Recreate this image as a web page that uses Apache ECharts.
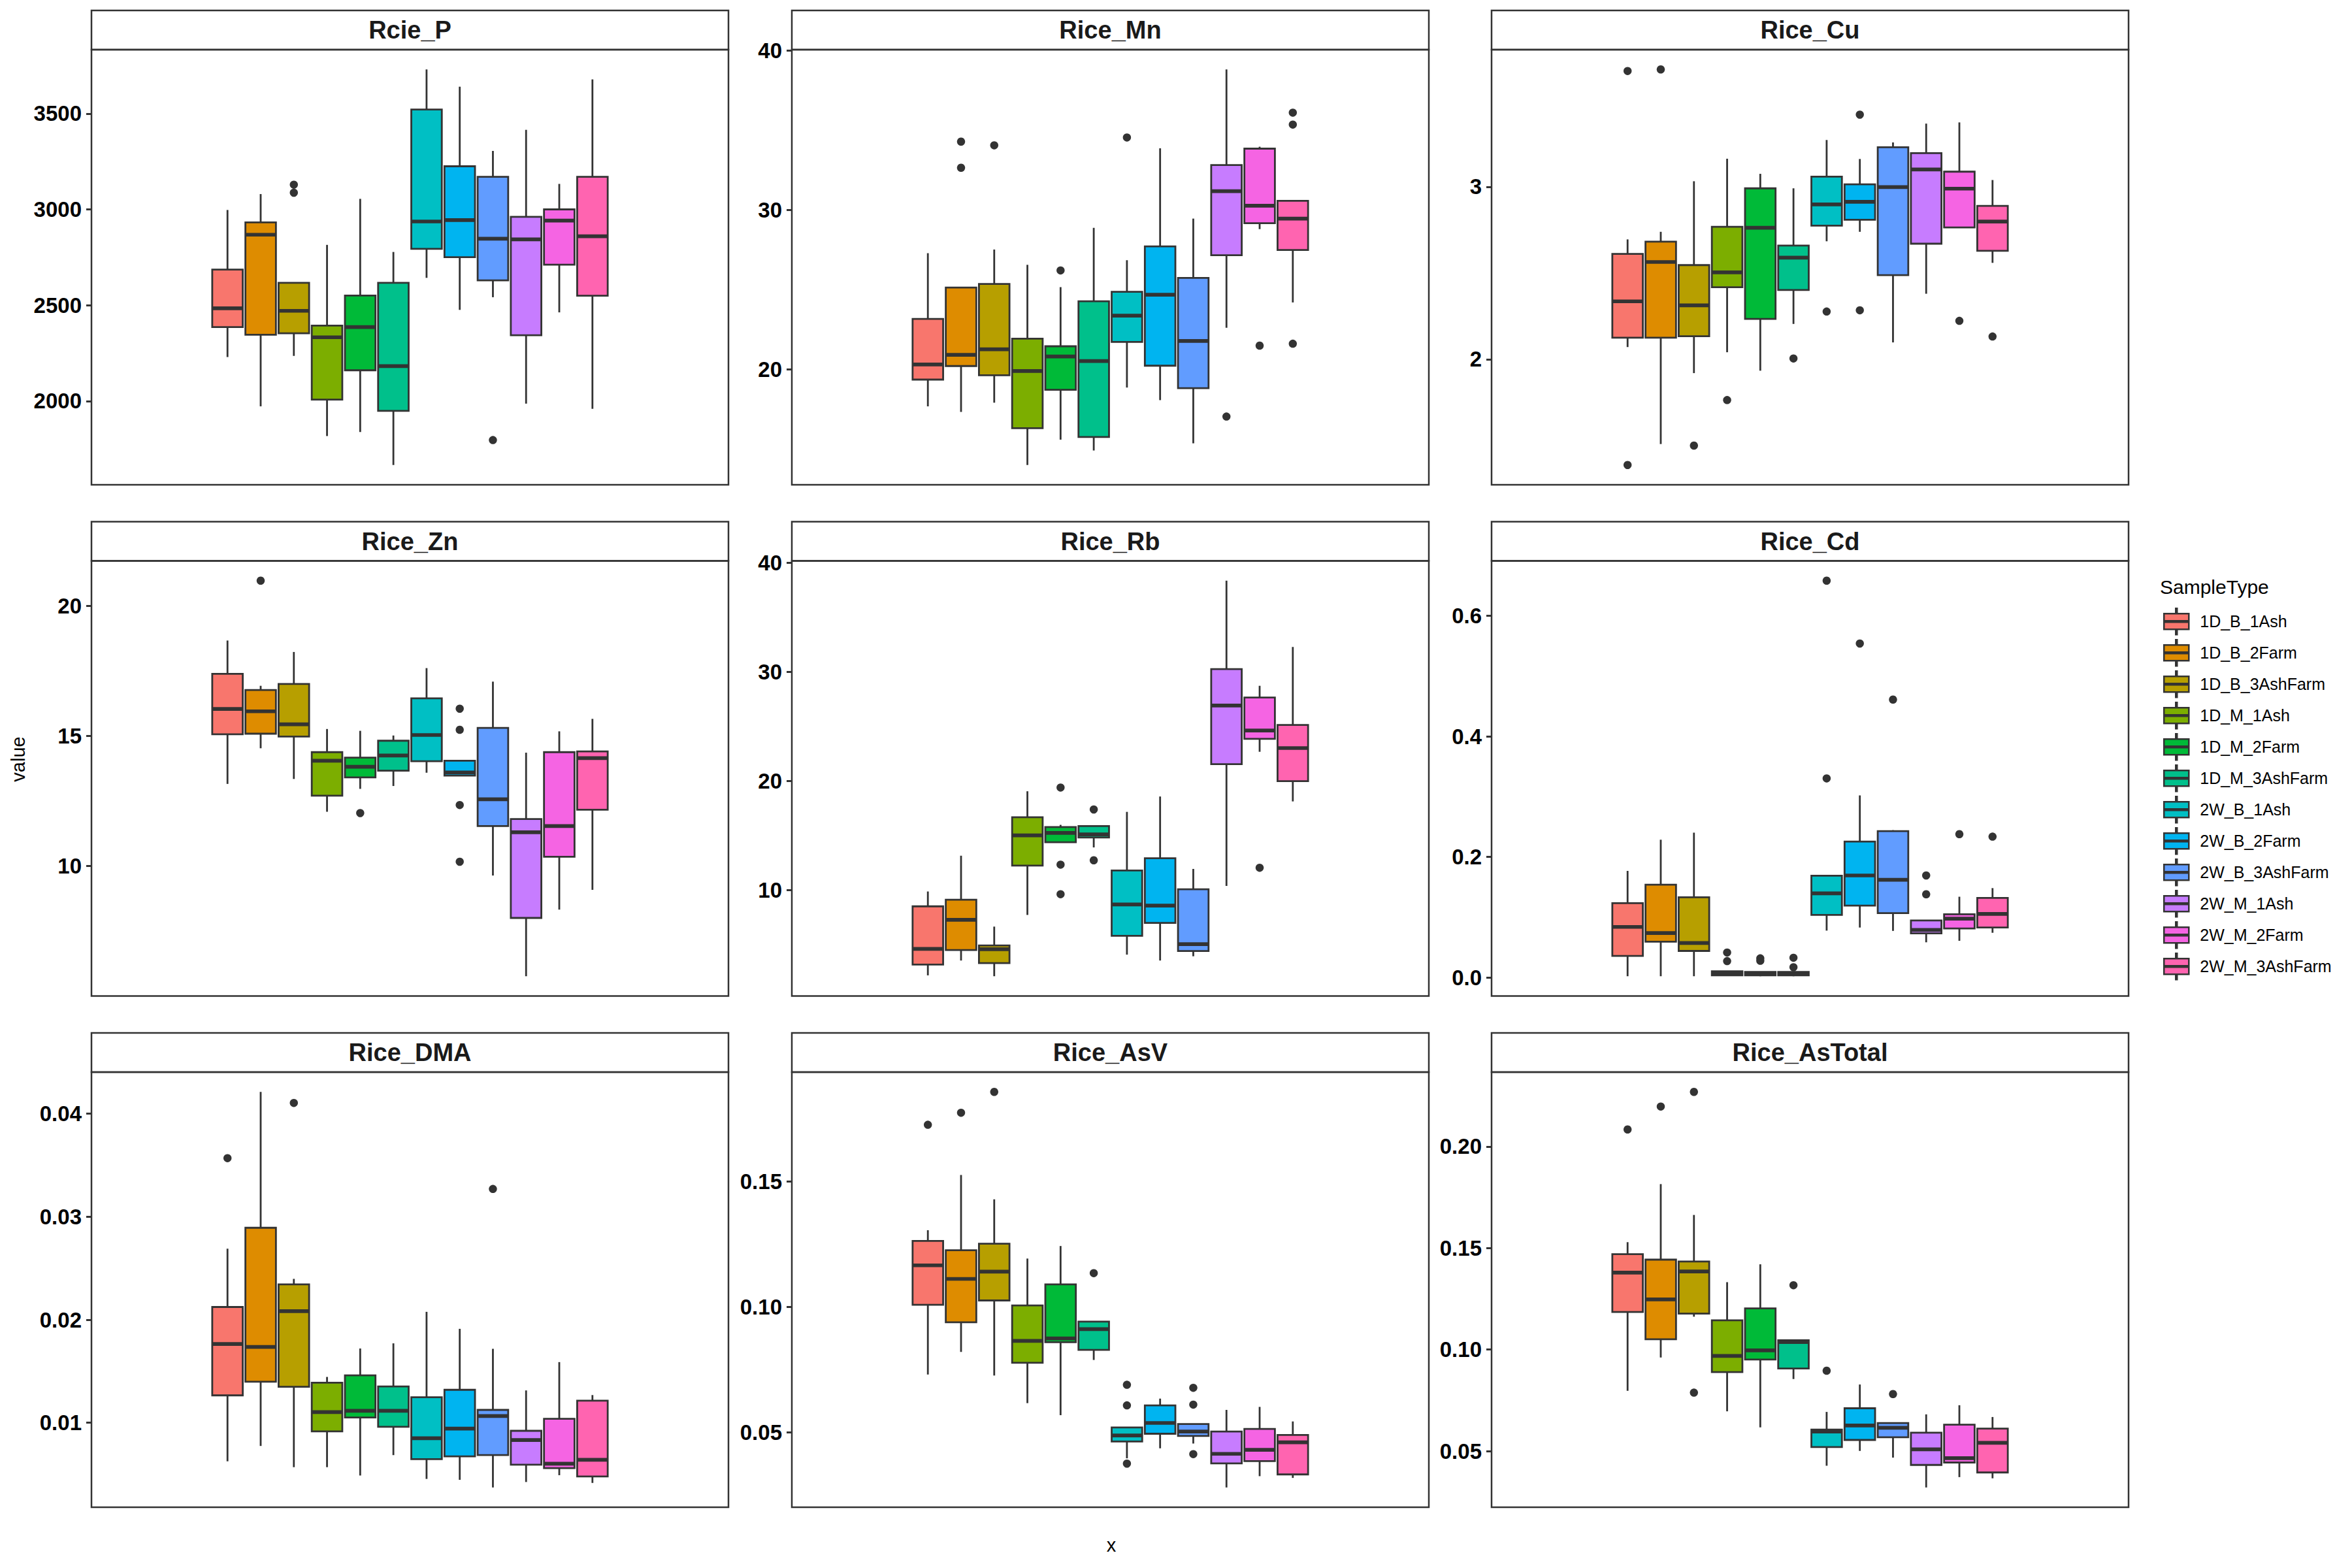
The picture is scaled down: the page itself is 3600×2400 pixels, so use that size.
<!DOCTYPE html>
<html>
<head>
<meta charset="utf-8">
<script src="https://cdn.jsdelivr.net/npm/echarts@6/dist/echarts.min.js"></script>
<style>html,body{margin:0;padding:0;background:#fff}#c{width:3600px;height:2400px}</style>
</head>
<body>
<div id="c"></div>
<script>
// ---------------- DATA ----------------
const categories = ['1D_B_1Ash','1D_B_2Farm','1D_B_3AshFarm','1D_M_1Ash','1D_M_2Farm','1D_M_3AshFarm',
                    '2W_B_1Ash','2W_B_2Farm','2W_B_3AshFarm','2W_M_1Ash','2W_M_2Farm','2W_M_3AshFarm'];
const colors = ['#F8766D','#DE8C00','#B79F00','#7CAE00','#00BA38','#00C08B',
                '#00BFC4','#00B4F0','#619CFF','#C77CFF','#F564E3','#FF64B0'];
const panelTitles = ['Rcie_P','Rice_Mn','Rice_Cu','Rice_Zn','Rice_Rb','Rice_Cd','Rice_DMA','Rice_AsV','Rice_AsTotal'];

// each box: [lower whisker, Q1, median, Q3, upper whisker]; outliers: [category index, value]
const P_box = [[2230,2386,2484,2686,2997],[1973,2346,2868,2932,3080],[2236,2354,2471,2617,2617],[1818,2008,2333,2394,2815],
  [1839,2161,2386,2551,3055],[1667,1949,2183,2617,2778],[2643,2794,2937,3521,3730],[2476,2751,2944,3225,3640],
  [2542,2630,2847,3170,3305],[1987,2344,2844,2961,3415],[2463,2712,2942,3000,3133],[1960,2550,2860,3170,3678]];
const P_out = [[2,3129],[2,3087],[8,1797]];
const P_ticks = [2000,2500,3000,3500];
const P_tickLabels = ['2000','2500','3000','3500'];

const Mn_box = [[17.68,19.36,20.31,23.17,27.29],[17.33,20.21,20.91,25.13,25.13],[17.91,19.63,21.26,25.36,27.52],[14.0,16.31,19.90,21.93,26.56],
  [15.59,18.72,20.81,21.45,25.16],[14.91,15.76,20.52,24.27,28.88],[18.86,21.72,23.37,24.87,26.85],[18.07,20.23,24.68,27.72,33.87],
  [15.36,18.82,21.78,25.74,29.46],[22.61,27.16,31.18,32.82,38.82],[28.8,29.17,30.27,33.85,33.97],[24.20,27.49,29.46,30.58,30.58]];
const Mn_out = [[1,34.29],[1,32.65],[2,34.06],[4,26.21],[6,34.55],[9,17.04],[10,21.49],[11,36.11],[11,35.36],[11,21.61]];
const Mn_ticks = [20,30,40];
const Mn_tickLabels = ['20','30','40'];

const Cu_box = [[2.071,2.125,2.336,2.611,2.695],[1.509,2.125,2.564,2.682,2.739],[1.920,2.134,2.3125,2.546,3.032],[2.041,2.418,2.504,2.768,3.1625],
  [1.934,2.234,2.7625,2.991,3.075],[2.205,2.402,2.589,2.659,2.991],[2.684,2.775,2.898,3.059,3.271],[2.739,2.809,2.9125,3.014,3.161],
  [2.098,2.4875,2.998,3.229,3.257],[2.380,2.670,3.1,3.195,3.366],[2.764,2.764,2.989,3.0875,3.373],[2.559,2.629,2.798,2.889,3.039]];
const Cu_out = [[0,3.671],[0,1.3875],[1,3.680],[2,1.5],[3,1.764],[5,2.005],[6,2.277],[7,3.418],[7,2.284],[10,2.223],[11,2.132]];
const Cu_ticks = [2,3];
const Cu_tickLabels = ['2','3'];

const Zn_box = [[13.16,15.07,16.04,17.39,18.67],[14.53,15.09,15.95,16.77,16.93],[13.35,14.98,15.45,17.0,18.23],[12.09,12.71,14.05,14.38,15.27],
  [12.97,13.41,13.82,14.17,15.20],[13.08,13.67,14.25,14.82,15.02],[13.59,14.03,15.04,16.45,17.61],[13.48,13.48,13.6,14.05,14.05],
  [9.64,11.54,12.57,15.31,17.09],[5.77,8.01,11.30,11.81,14.36],[8.33,10.36,11.54,14.38,15.18],[9.09,12.17,14.15,14.41,15.66]];
const Zn_out = [[1,20.97],[4,12.04],[7,16.05],[7,15.24],[7,12.35],[7,10.17]];
const Zn_ticks = [10,15,20];
const Zn_tickLabels = ['10','15','20'];

const Rb_box = [[2.17,3.16,4.60,8.50,9.86],[3.53,4.49,7.26,9.10,13.14],[2.09,3.30,4.57,4.91,6.64],[7.71,12.24,15.01,16.67,19.05],
  [14.38,14.38,15.23,15.77,15.97],[13.90,14.81,15.09,15.86,15.86],[4.07,5.79,8.67,11.78,17.16],[3.53,6.98,8.56,12.91,18.57],
  [3.92,4.40,5.03,10.06,11.93],[10.37,21.54,26.91,30.25,38.36],[22.67,23.86,24.62,27.64,28.72],[18.12,19.98,23.01,25.13,32.28]];
const Rb_out = [[4,19.39],[4,12.32],[4,9.61],[5,17.38],[5,12.72],[10,12.04]];
const Rb_ticks = [10,20,30,40];
const Rb_tickLabels = ['10','20','30','40'];

const Cd_box = [[0.002,0.0358,0.0838,0.1232,0.1768],[0.002,0.0593,0.0736,0.1538,0.2285],[0.002,0.044,0.0572,0.1329,0.2402],
  [0.0026,0.0036,0.0066,0.0102,0.0102],[0.002,0.0036,0.0061,0.0092,0.0092],[0.002,0.0036,0.006,0.0092,0.0092],
  [0.0777,0.1038,0.1395,0.1687,0.1687],[0.0828,0.1191,0.1692,0.2254,0.302],[0.0772,0.1068,0.162,0.2428,0.2443],
  [0.0583,0.0731,0.0787,0.0946,0.0946],[0.0608,0.0813,0.0976,0.1048,0.1339],[0.0741,0.0828,0.1053,0.1319,0.1482]];
const Cd_out = [[3,0.0414],[3,0.0271],[4,0.0317],[4,0.0276],[5,0.0327],[5,0.0169],[6,0.6583],[6,0.3302],[7,0.554],[8,0.461],
  [9,0.1692],[9,0.138],[10,0.2377],[11,0.2336]];
const Cd_ticks = [0,0.2,0.4,0.6];
const Cd_tickLabels = ['0.0','0.2','0.4','0.6'];

const DMA_box = [[0.00626,0.01266,0.01765,0.02124,0.0269],[0.00775,0.01398,0.01736,0.02893,0.04212],[0.00569,0.0135,0.02083,0.02343,0.02397],
  [0.00569,0.00916,0.01104,0.01389,0.01445],[0.00488,0.01051,0.01116,0.0146,0.01721],[0.00686,0.00961,0.01116,0.01353,0.01771],
  [0.00455,0.00647,0.0085,0.01248,0.02077],[0.00446,0.00674,0.00943,0.0132,0.01912],[0.00372,0.00686,0.01066,0.01125,0.01718],
  [0.00425,0.00593,0.00832,0.00922,0.01314],[0.00491,0.0056,0.00602,0.01039,0.01589],[0.00416,0.00479,0.00641,0.01215,0.01269]];
const DMA_out = [[0,0.03569],[2,0.04105],[8,0.0327]];
const DMA_ticks = [0.01,0.02,0.03,0.04];
const DMA_tickLabels = ['0.01','0.02','0.03','0.04'];

const AsV_box = [[0.0731,0.1009,0.1166,0.1263,0.1306],[0.0821,0.0939,0.1112,0.1226,0.1526],[0.0727,0.1026,0.1141,0.1252,0.1429],
  [0.0617,0.0778,0.0865,0.1006,0.1193],[0.0569,0.086,0.0875,0.109,0.1243],[0.0789,0.0829,0.0912,0.0942,0.0943],
  [0.0397,0.0464,0.0488,0.052,0.052],[0.0437,0.0495,0.0538,0.0608,0.0635],[0.0456,0.0486,0.0504,0.0534,0.0534],
  [0.0281,0.0377,0.0415,0.0504,0.059],[0.0326,0.0386,0.0431,0.0514,0.0602],[0.0319,0.0333,0.0461,0.049,0.0544]];
const AsV_out = [[0,0.1726],[1,0.1774],[2,0.1857],[5,0.1135],[6,0.069],[6,0.0608],[6,0.0376],[8,0.0678],[8,0.0611],[8,0.0414]];
const AsV_ticks = [0.05,0.10,0.15];
const AsV_tickLabels = ['0.05','0.10','0.15'];

const AsTotal_box = [[0.0797,0.1185,0.1379,0.147,0.1529],[0.0961,0.1051,0.1247,0.1443,0.1815],[0.1162,0.1177,0.1385,0.1434,0.1663],
  [0.0696,0.0889,0.0969,0.1144,0.1332],[0.0617,0.0951,0.0996,0.1203,0.142],[0.0855,0.0907,0.1037,0.1046,0.1046],
  [0.0428,0.052,0.0596,0.0606,0.0693],[0.0501,0.0555,0.0626,0.0711,0.0828],[0.0468,0.0568,0.0615,0.0638,0.0638],
  [0.0321,0.0432,0.0509,0.0591,0.0681],[0.0372,0.0444,0.0465,0.063,0.0726],[0.0366,0.0395,0.0541,0.0611,0.0668]];
const AsTotal_out = [[0,0.2084],[1,0.2197],[2,0.2269],[2,0.0788],[5,0.1317],[6,0.0896],[8,0.0781]];
const AsTotal_ticks = [0.05,0.10,0.15,0.20];
const AsTotal_tickLabels = ['0.05','0.10','0.15','0.20'];

// ---------------- LAYOUT ----------------
const FONT = '"Liberation Sans", Arial, Helvetica, sans-serif';
const COL_LEFT = [140, 1212, 2283];
const PANEL_W = 975;
const ROW_TOP = [16, 798.5, 1581];
const STRIP_H = 60;
const PLOT_H = 666;
const DARK = '#333333';

const panels = [
  {box: P_box, out: P_out, ticks: P_ticks, labels: P_tickLabels},
  {box: Mn_box, out: Mn_out, ticks: Mn_ticks, labels: Mn_tickLabels},
  {box: Cu_box, out: Cu_out, ticks: Cu_ticks, labels: Cu_tickLabels},
  {box: Zn_box, out: Zn_out, ticks: Zn_ticks, labels: Zn_tickLabels},
  {box: Rb_box, out: Rb_out, ticks: Rb_ticks, labels: Rb_tickLabels},
  {box: Cd_box, out: Cd_out, ticks: Cd_ticks, labels: Cd_tickLabels},
  {box: DMA_box, out: DMA_out, ticks: DMA_ticks, labels: DMA_tickLabels},
  {box: AsV_box, out: AsV_out, ticks: AsV_ticks, labels: AsV_tickLabels},
  {box: AsTotal_box, out: AsTotal_out, ticks: AsTotal_ticks, labels: AsTotal_tickLabels}
];

function renderBox(params, api) {
  const i = api.value(0);
  const low = api.coord([i, api.value(1)]);
  const q1 = api.coord([i, api.value(2)]);
  const med = api.coord([i, api.value(3)]);
  const q3 = api.coord([i, api.value(4)]);
  const high = api.coord([i, api.value(5)]);
  const bw = api.size([1, 0])[0] * 0.92;
  const x = med[0];
  const fill = api.visual('color');
  return {
    type: 'group',
    children: [
      {type: 'line', shape: {x1: x, y1: high[1], x2: x, y2: q3[1]}, style: {stroke: DARK, lineWidth: 2.8}},
      {type: 'line', shape: {x1: x, y1: q1[1], x2: x, y2: low[1]}, style: {stroke: DARK, lineWidth: 2.8}},
      {type: 'rect', shape: {x: x - bw / 2, y: q3[1], width: bw, height: q1[1] - q3[1]},
        style: {fill: fill, stroke: DARK, lineWidth: 2.8}},
      {type: 'line', shape: {x1: x - bw / 2, y1: med[1], x2: x + bw / 2, y2: med[1]},
        style: {stroke: DARK, lineWidth: 5.7}}
    ]
  };
}

const grids = [], xAxes = [], yAxes = [], series = [], titles = [], graphics = [];

panels.forEach((p, k) => {
  const col = k % 3, row = Math.floor(k / 3);
  const left = COL_LEFT[col], top = ROW_TOP[row];
  const all = p.box.flat().concat(p.out.map(o => o[1]));
  const dmin = Math.min(...all), dmax = Math.max(...all);
  const pad = 0.05 * (dmax - dmin);
  const boxOffset = 0.1875 * PANEL_W;

  grids.push({left: left + boxOffset, top: top + STRIP_H, width: 0.625 * PANEL_W, height: PLOT_H});
  xAxes.push({gridIndex: k, type: 'category', data: categories, boundaryGap: true, show: false});
  const ticks = p.ticks, labels = p.labels;
  yAxes.push({
    gridIndex: k, type: 'value', min: dmin - pad, max: dmax + pad, offset: boxOffset,
    axisLine: {show: false}, splitLine: {show: false},
    axisTick: {show: true, length: 8, customValues: ticks, lineStyle: {color: DARK, width: 3}},
    axisLabel: {
      show: true, customValues: ticks, margin: 15, fontSize: 33, fontWeight: 'bold', color: '#000', fontFamily: FONT,
      formatter: function (v) {
        for (let j = 0; j < ticks.length; j++) if (Math.abs(ticks[j] - v) < 1e-9) return labels[j];
        return '';
      }
    }
  });

  categories.forEach((c, i) => {
    series.push({
      type: 'custom', name: c, xAxisIndex: k, yAxisIndex: k,
      itemStyle: {color: colors[i]},
      renderItem: renderBox,
      encode: {x: 0, y: [1, 2, 3, 4, 5]},
      data: [[i].concat(p.box[i])],
      z: 3, silent: true
    });
  });
  series.push({
    type: 'scatter', xAxisIndex: k, yAxisIndex: k, data: p.out,
    symbol: 'circle', symbolSize: 12.5, itemStyle: {color: DARK, opacity: 1},
    z: 4, silent: true
  });

  titles.push({
    text: panelTitles[k], left: left + PANEL_W / 2, top: top + STRIP_H / 2,
    textAlign: 'center', textVerticalAlign: 'middle', padding: 0,
    textStyle: {fontSize: 38, fontWeight: 'bold', color: '#1a1a1a', fontFamily: FONT}
  });

  graphics.push({type: 'rect', z: 1, shape: {x: left, y: top, width: PANEL_W, height: STRIP_H},
    style: {fill: '#ffffff', stroke: DARK, lineWidth: 2.5}});
  graphics.push({type: 'rect', z: 1, shape: {x: left, y: top + STRIP_H, width: PANEL_W, height: PLOT_H},
    style: {fill: 'none', stroke: DARK, lineWidth: 2.5}});
});

titles.push({
  text: 'SampleType', left: 3306, top: 898, textAlign: 'left', textVerticalAlign: 'middle', padding: 0,
  textStyle: {fontSize: 30, fontWeight: 'normal', color: '#000', fontFamily: FONT}
});

graphics.push({
  type: 'text', x: 28, y: 1162, rotation: Math.PI / 2, z: 5,
  style: {text: 'value', fontSize: 29, fontFamily: FONT, fill: '#000',
    align: 'center', verticalAlign: 'middle', textAlign: 'center', textVerticalAlign: 'middle'}
});
graphics.push({
  type: 'text', x: 1701, y: 2365, z: 5,
  style: {text: 'x', fontSize: 29, fontFamily: FONT, fill: '#000',
    align: 'center', verticalAlign: 'middle', textAlign: 'center', textVerticalAlign: 'middle'}
});

const option = {
  animation: false,
  backgroundColor: '#ffffff',
  textStyle: {fontFamily: FONT},
  title: titles,
  grid: grids,
  xAxis: xAxes,
  yAxis: yAxes,
  legend: {
    data: categories, orient: 'vertical', left: 3311, top: 930, padding: 0,
    itemWidth: 38, itemHeight: 40, itemGap: 5.5, selectedMode: false,
    icon: 'path://M18,0h2v8h-2z M0,8h38v24h-38z M18,32h2v8h-2z M0,19h38v2h-38z',
    itemStyle: {borderColor: DARK, borderWidth: 2.5},
    textStyle: {fontSize: 25, color: '#000', fontFamily: FONT, padding: [0, 0, 0, 12]}
  },
  graphic: graphics,
  series: series
};

const chart = echarts.init(document.getElementById('c'), null, {renderer: 'svg', width: 3600, height: 2400});
chart.setOption(option);
</script>
</body>
</html>
